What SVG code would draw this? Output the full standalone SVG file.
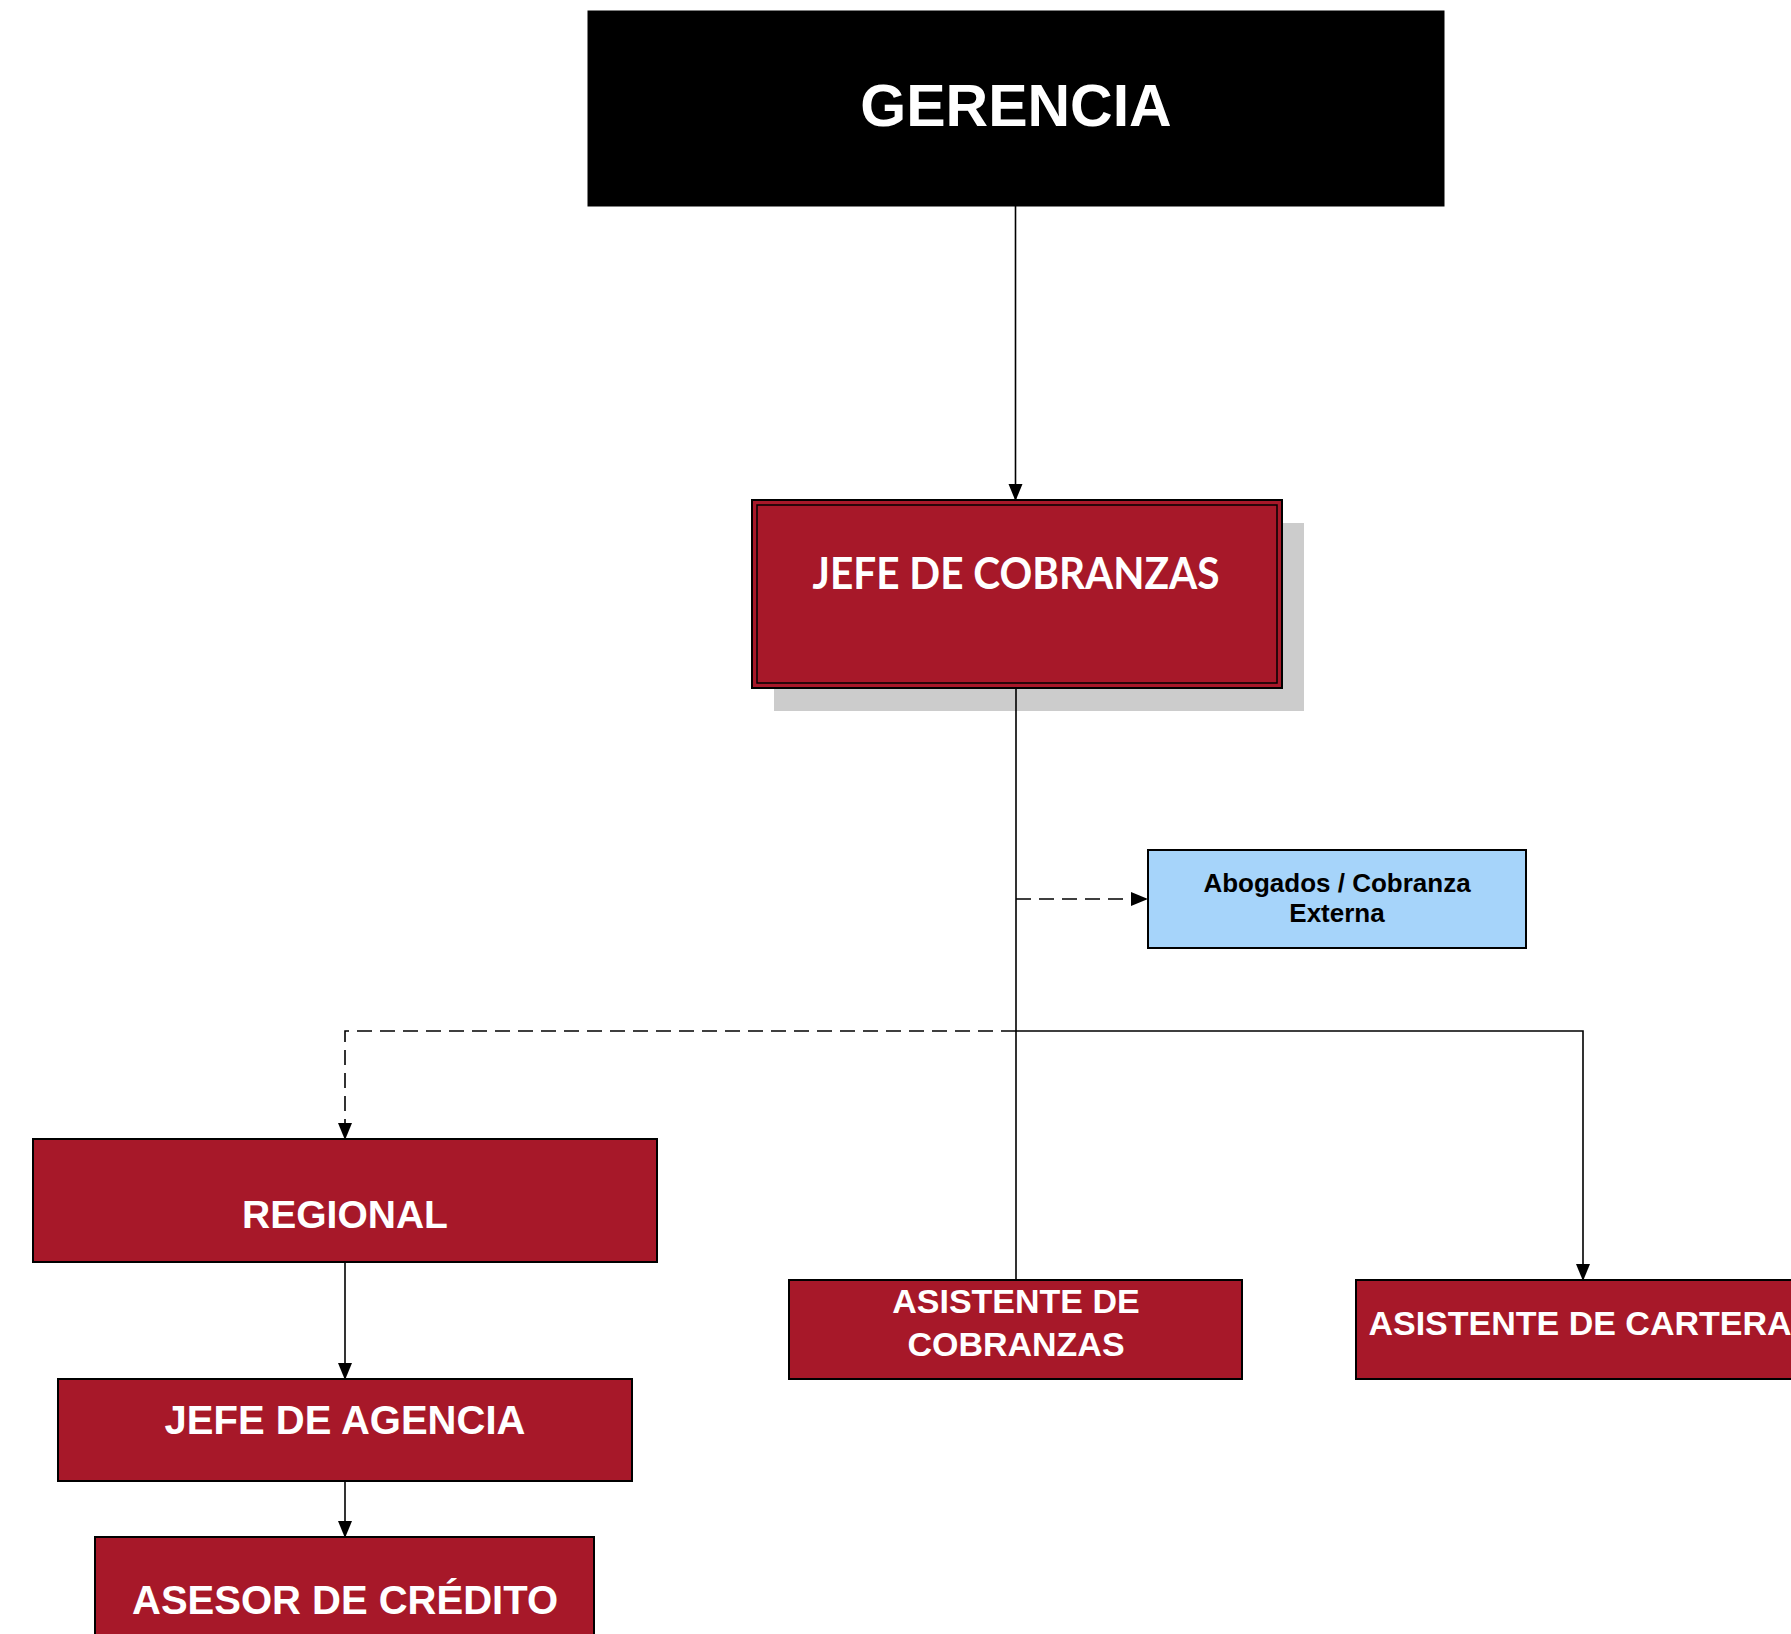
<svg xmlns="http://www.w3.org/2000/svg" width="1791" height="1634" viewBox="0 0 1791 1634">
<style>
.red{fill:#a71829;stroke:#000;stroke-width:2}
.lbl{font-family:"Liberation Sans",Arial,sans-serif;font-weight:bold;fill:#fff;text-anchor:middle}
.con{fill:none;stroke:#000;stroke-width:1.6}
.dash{stroke-dasharray:15 8}
</style>
<defs>
<marker id="ah" markerWidth="17" markerHeight="16" refX="16" refY="8" orient="auto" markerUnits="userSpaceOnUse">
<path d="M0,1 L17,8 L0,15 Z" fill="#000"/>
</marker>
</defs>
<rect width="1791" height="1634" fill="#fff"/>
<g id="gerencia">
<rect x="588" y="11" width="856" height="195" fill="#000" stroke="#000" stroke-width="1"/>
<text class="lbl" x="1016" y="126" font-size="59">GERENCIA</text>
</g>
<g id="jefe-cobranzas">
<rect x="774" y="523" width="530" height="188" fill="#cccccc"/>
<rect x="752" y="500" width="530" height="188" fill="#a71829" stroke="#000" stroke-width="2"/>
<rect x="757" y="505" width="520" height="178" fill="none" stroke="#000" stroke-width="1.5"/>
<text x="1016" y="589" font-family="Lato,'Open Sans',sans-serif" font-weight="bold" font-size="43" fill="#fff" text-anchor="middle" textLength="407" lengthAdjust="spacingAndGlyphs">JEFE DE COBRANZAS</text>
</g>
<g id="abogados">
<rect x="1148" y="850" width="378" height="98" fill="#a6d4fa" stroke="#000" stroke-width="2"/>
<text x="1337" y="892" font-family="'Liberation Sans',Arial,sans-serif" font-weight="bold" font-size="26" fill="#000" text-anchor="middle">Abogados / Cobranza</text>
<text x="1337" y="922" font-family="'Liberation Sans',Arial,sans-serif" font-weight="bold" font-size="26" fill="#000" text-anchor="middle">Externa</text>
</g>
<g id="regional">
<rect class="red" x="33" y="1139" width="624" height="123"/>
<text class="lbl" x="345" y="1228" font-size="39">REGIONAL</text>
</g>
<g id="asistente-cobranzas">
<rect class="red" x="789" y="1280" width="453" height="99"/>
<text class="lbl" x="1016" y="1313" font-size="34">ASISTENTE DE</text>
<text class="lbl" x="1016" y="1356" font-size="34">COBRANZAS</text>
</g>
<g id="asistente-cartera">
<rect class="red" x="1356" y="1280" width="448" height="99"/>
<text class="lbl" x="1580" y="1335" font-size="34">ASISTENTE DE CARTERA</text>
</g>
<g id="jefe-agencia">
<rect class="red" x="58" y="1379" width="574" height="102"/>
<text class="lbl" x="345" y="1434" font-size="40">JEFE DE AGENCIA</text>
</g>
<g id="asesor-credito">
<rect class="red" x="95" y="1537" width="499" height="110"/>
<text class="lbl" x="345" y="1614" font-size="40">ASESOR DE CRÉDITO</text>
</g>
<g id="connectors">
<path class="con" d="M1015.5,206 V500" marker-end="url(#ah)"/>
<path class="con" d="M1016,689 V1031 M1016,1031 V1280"/>
<path class="con dash" d="M1016,899 H1147" marker-end="url(#ah)"/>
<path class="con dash" d="M1016,1031 H345 V1139" marker-end="url(#ah)"/>
<path class="con" d="M1016,1031 H1583 V1280" marker-end="url(#ah)"/>
<path class="con" d="M345,1262 V1379" marker-end="url(#ah)"/>
<path class="con" d="M345,1481 V1537" marker-end="url(#ah)"/>
</g>
</svg>
